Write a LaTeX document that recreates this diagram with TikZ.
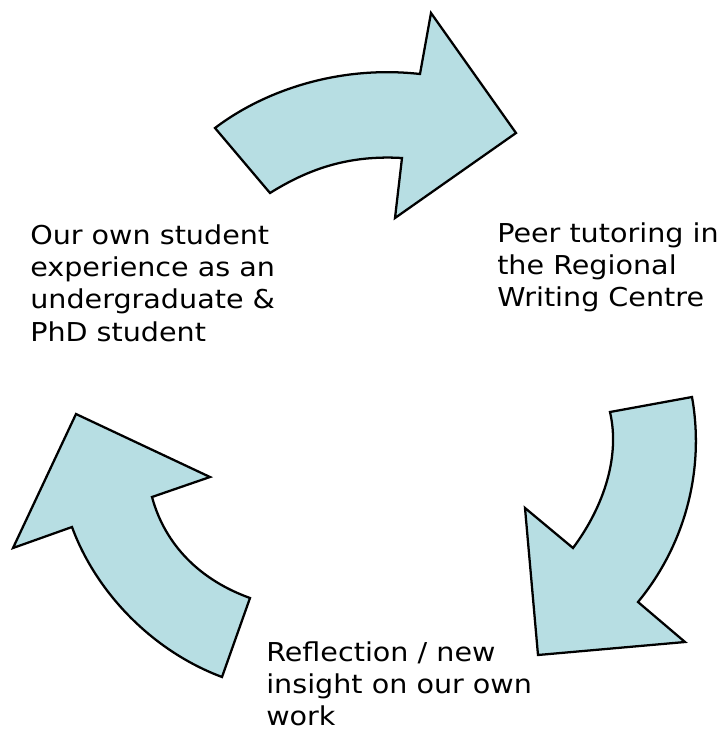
\documentclass[tikz,border=0pt]{standalone}
\usepackage{fontspec}
\setmainfont{DejaVu Sans}[FakeStretch=1.1]
\definecolor{arrowfill}{RGB}{183,222,227}
\begin{document}
\begin{tikzpicture}[x=0.75pt,y=-0.75pt,
  bigarrow/.style={draw=black,line width=1.7pt,fill=arrowfill,line join=miter},
  label/.style={anchor=north west,inner sep=0pt,align=left,font=\fontsize{19.5pt}{24.3pt}\selectfont}]
\useasboundingbox[fill=white] (0,0) rectangle (719,733);
% top arrow
\path[bigarrow] (215,128) -- (270,193) .. controls (310,168) and (350,155) .. (402,158)
  -- (395,218) -- (516,133) -- (431,13) -- (420,74)
  .. controls (340,65) and (265,90) .. (215,128) -- cycle;
% right arrow
\path[bigarrow] (610,412) -- (692,397) .. controls (705,470) and (685,545) .. (638,602)
  -- (685,642) -- (538,655) -- (525,508) -- (573,548)
  .. controls (605,505) and (620,455) .. (610,412) -- cycle;
% left arrow
\path[bigarrow] (76,414) -- (210,477) -- (152,497) .. controls (165,545) and (200,580) .. (250,598)
  -- (222,677) .. controls (150,650) and (95,590) .. (72,527) -- (13,548) -- cycle;
% texts
\node[label] (own) at (30,224) {Our own student\\experience as an\\undergraduate \&\\PhD student};
\node[label] (peer) at (497,222) {Peer tutoring in\\the Regional\\Writing Centre};
\node[label] (refl) at (266,641) {Reflection / new\\insight on our own\\work};
\end{tikzpicture}
\end{document}
